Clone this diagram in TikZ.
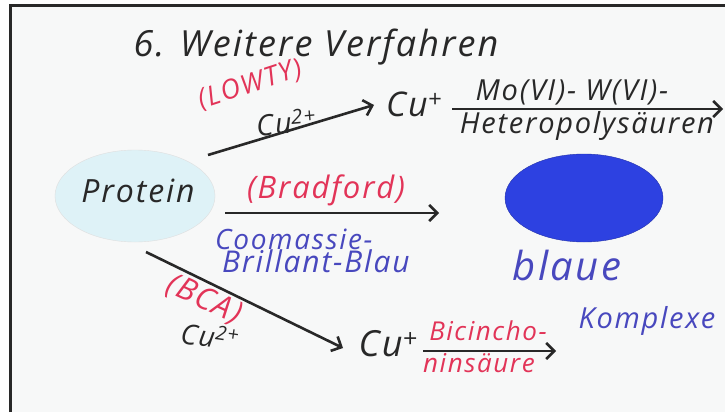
\documentclass[tikz,border=0pt]{standalone}
\usepackage{fontspec}
\setmainfont{Open Sans}[LetterSpace=6]
\usepackage{tikz}
\usepackage{xcolor}
\usetikzlibrary{arrows.meta,shapes.geometric}
\definecolor{Ink}{RGB}{40,40,40}
\definecolor{RedInk}{RGB}{226,52,88}
\definecolor{BlueInk}{RGB}{72,72,190}
\definecolor{Disc}{RGB}{45,65,225}
\definecolor{Pale}{RGB}{222,242,247}
\definecolor{Board}{RGB}{247,248,248}

\begin{document}
\begin{tikzpicture}[x=1pt,y=-1pt,
    txt/.style={inner sep=0pt,text=Ink,font=\itshape\fontsize{#1}{#1}\selectfont},
    rtxt/.style={txt=#1,text=RedInk},
    btxt/.style={txt=#1,text=BlueInk},
    arr/.style={draw=Ink,line width=2.6pt,-{Straight Barb[length=8pt,width=16pt]}}]
    \useasboundingbox (0,0) rectangle (725,412);
    \fill[Board] (9,5) rectangle (725,412);
    \draw[Ink,line width=3pt] (10,412) -- (10,5.5) -- (725,5.5);
    \node[txt=36] (T) at (316,47) {6. Weitere Verfahren};
    \node[ellipse,fill=Pale,draw=gray!25,minimum width=160,minimum height=92,inner sep=0pt] (P) at (135,196) {};
    \node[txt=32] (Pt) at (138,191) {Protein};
    \node[ellipse,fill=Disc,draw=Disc!75!black,minimum width=158,minimum height=88,inner sep=0pt] (K) at (584,198) {};
    \node[rtxt=27,rotate=18] (L) at (250,85) {(LOWTY)};
    \node[txt=29,rotate=5] (Cu1) at (286,122) {Cu\textsuperscript{2+}};
    \node[txt=34] (C) at (414,104) {Cu\textsuperscript{+}};
    \node[txt=29] (M) at (572,92) {Mo(VI)- W(VI)-};
    \node[txt=29] (H) at (587,126) {Heteropolysäuren};
    \node[rtxt=31] (Bf) at (326,190) {(Bradford)};
    \node[btxt=28,anchor=west] (Co) at (215,239) {Coomassie-};
    \node[btxt=30,anchor=west] (Br) at (222,261) {Brillant-Blau};
    \node[btxt=40] (Bl) at (567,265) {blaue};
    \node[btxt=29] (Ko) at (647,321) {Komplexe};
    \node[rtxt=31,rotate=-25] (BCA) at (204,300) {(BCA)};
    \node[txt=28,rotate=-8] (Cu2) at (210,336) {Cu\textsuperscript{2+}};
    \node[txt=36] (D) at (388,344) {Cu\textsuperscript{+}};
    \node[rtxt=26] (Bi) at (488,331) {Bicincho-};
    \node[rtxt=26] (Ni) at (479,363) {ninsäure};
    \coordinate (a1) at (208,155);
    \coordinate (b1) at (374,105);
    \coordinate (a2) at (452,109);
    \coordinate (b2) at (723,109);
    \coordinate (a3) at (225,213);
    \coordinate (b3) at (439,213);
    \coordinate (a4) at (146,252);
    \coordinate (b4) at (343,348);
    \coordinate (a5) at (423,351);
    \coordinate (b5) at (556,351);
    \draw[arr] (a1) -- (b1);
    \draw[arr] (a2) -- (b2);
    \draw[arr] (a3) -- (b3);
    \draw[arr] (a4) -- (b4);
    \draw[arr] (a5) -- (b5);
  \end{tikzpicture}
\end{document}
